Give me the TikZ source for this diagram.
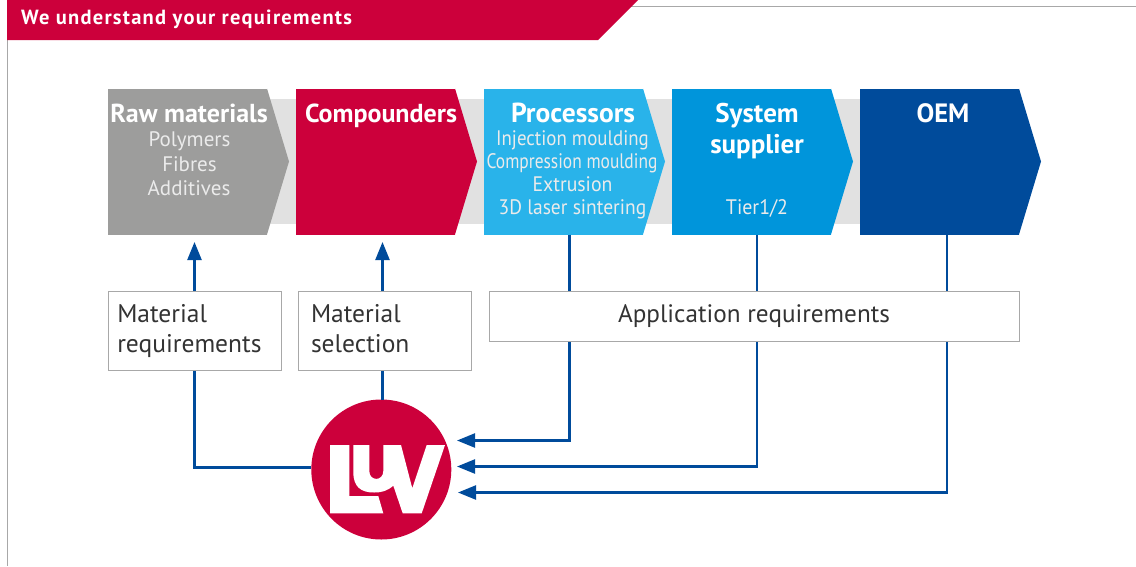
\documentclass[tikz,border=0pt]{standalone}
\usepackage{fontspec}
\setmainfont{PT Sans}
\usetikzlibrary{arrows.meta,calc}
\definecolor{luvred}{HTML}{CC003B}
\definecolor{rawgrey}{HTML}{9D9D9C}
\definecolor{bandgrey}{HTML}{E1E1E1}
\definecolor{framegrey}{HTML}{A8A8A8}
\definecolor{skyblue}{HTML}{29B3EA}
\definecolor{midblue}{HTML}{0095DB}
\definecolor{deepblue}{HTML}{004B9B}
\definecolor{boxtext}{HTML}{333333}
\newcommand{\fsz}[2]{\fontsize{#1}{#2}\selectfont}
\newcommand{\squeeze}[2]{\scalebox{#1}[1]{#2}}
\tikzset{
  chevbody/.style={rectangle,inner sep=0,outer sep=0,minimum width=159pt,minimum height=146pt,anchor=north west},
  headtxt/.style={text=white,font=\fsz{26}{30}\bfseries,inner sep=0,anchor=base},
  subtxt/.style={text=white!92!black,font=\fsz{21}{25},inner sep=0,anchor=base},
  reqbox/.style={draw=framegrey,line width=1pt,fill=white,rectangle,inner sep=0,outer sep=0,anchor=north west,
     text=boxtext,font=\fsz{25.5}{30}},
  link/.style={draw=deepblue,line width=2.4pt},
  arrowlink/.style={link,-{Triangle[length=18pt,width=14pt]}},
}
\newcommand{\chev}[3]{%
  \node[chevbody,fill=#3] (#1) at (#2,88.5) {};
  \fill[#3] (#1.north east) -- ($(#1.east)+(22pt,0)$) -- (#1.south east) -- cycle;
}
\begin{document}
\begin{tikzpicture}[x=1pt,y=-1pt]
\useasboundingbox (0,0) rectangle (1136,566);
% frame and header
\draw[framegrey,line width=1pt] (7.5,40) -- (7.5,566);
\draw[framegrey,line width=1pt] (630,6.5) -- (1136,6.5);
\fill[luvred] (7,0) -- (638,0) -- (598,40) -- (7,40) -- cycle;
\node[text=white,font=\fsz{20.5}{24}\bfseries\addfontfeature{LetterSpace=6.1},inner sep=0,anchor=base west] (title) at (21,24.5) {We understand your requirements};
% band
\fill[bandgrey] (260,99) rectangle (860,224);
% chevrons
\chev{raw}{108}{rawgrey}
\chev{comp}{296}{luvred}
\chev{proc}{484}{skyblue}
\chev{sys}{672}{midblue}
\chev{oem}{860}{deepblue}
% chevron text
\node[headtxt] (rawh) at (189,122.2) {Raw materials};
\node[subtxt] (raw1) at (189.5,146) {Polymers};
\node[subtxt] (raw2) at (189.5,171) {Fibres};
\node[subtxt] (raw3) at (189,195) {Additives};
\node[headtxt] (comph) at (381,122.2) {Compounders};
\node[headtxt,font=\fsz{27.5}{30}\bfseries] (proch) at (573,122.2) {Processors};
\node[subtxt] (proc1) at (572.5,145) {\squeeze{0.9}{Injection moulding}};
\node[subtxt] (proc2) at (572,168) {\squeeze{0.83}{Compression moulding}};
\node[subtxt] (proc3) at (572.5,191) {\squeeze{0.94}{Extrusion}};
\node[subtxt] (proc4) at (572.5,214) {\squeeze{0.93}{3D laser sintering}};
\node[headtxt,font=\fsz{27}{30}\bfseries] (sysh) at (757,122.2) {System};
\node[headtxt,font=\fsz{27}{30}\bfseries] (sysi) at (757,153.2) {supplier};
\node[subtxt] (sys1) at (757,214) {\squeeze{0.95}{Tier1/2}};
\node[headtxt,font=\fsz{26.5}{30}\bfseries] (oemh) at (943,122.2) {OEM};
% logo
\node[circle,fill=luvred,inner sep=0,outer sep=0,minimum size=140pt] (luv) at (381.3,469.5) {};
\fill[white] (330,445) -- (349.3,445) -- (349.3,496) -- (378.3,496) -- (383.3,513.3) -- (330,513.3) -- cycle;
\fill[white] (353.3,445) -- (369.3,445) -- (369.3,471) .. controls (369.3,481.5) and (383.3,481.5) .. (383.3,471) -- (383.3,445) -- (401,445) -- (412.3,488.3) -- (426.7,445) -- (445,445) -- (421.7,513.3) -- (402.7,513.3) -- (393.3,485.7) .. controls (387,491) and (382,492.5) .. (374,492.5) .. controls (361,492.5) and (353.3,487) .. (353.3,472) -- cycle;
% turning points and free ends
\coordinate (up1) at (194.5,242);
\coordinate (up2) at (382.5,242);
\coordinate (low1) at (194.5,467.5);
\coordinate (in1) at (457,440.5);
\coordinate (in2) at (457,466.5);
\coordinate (in3) at (458,492.5);
\coordinate (bend1) at (569.5,440.5);
\coordinate (bend2) at (757,466.5);
\coordinate (bend3) at (947,492.5);
% connectors (the boxes are drawn over them)
\draw[link] (up1 |- 0,370) -- (low1) -- (luv.west |- low1);
\draw[link] (up2 |- 0,370) -- (up2 |- luv.north);
\draw[arrowlink] (proc.south -| bend1) -- (bend1) -- (in1);
\draw[arrowlink] (sys.south -| bend2) -- (bend2) -- (in2);
\draw[arrowlink] (oem.south -| bend3) -- (bend3) -- (in3);
\draw[arrowlink] (up1 |- 0,292) -- (up1);
\draw[arrowlink] (up2 |- 0,292) -- (up2);
% boxes
\node[reqbox,minimum width=172.5pt,minimum height=79pt,text width=155pt,align=left] (mreq) at (108.5,291.5) {\strut Material\\\strut requirements};
\node[reqbox,minimum width=173pt,minimum height=79pt,text width=148pt,align=left] (msel) at (298.5,291.5) {\strut Material\\\strut selection};
\node[reqbox,minimum width=530pt,minimum height=49.5pt,align=center,font=\fsz{25.2}{30}] (appl) at (489,291.5) {\strut Application requirements};
\end{tikzpicture}
\end{document}
